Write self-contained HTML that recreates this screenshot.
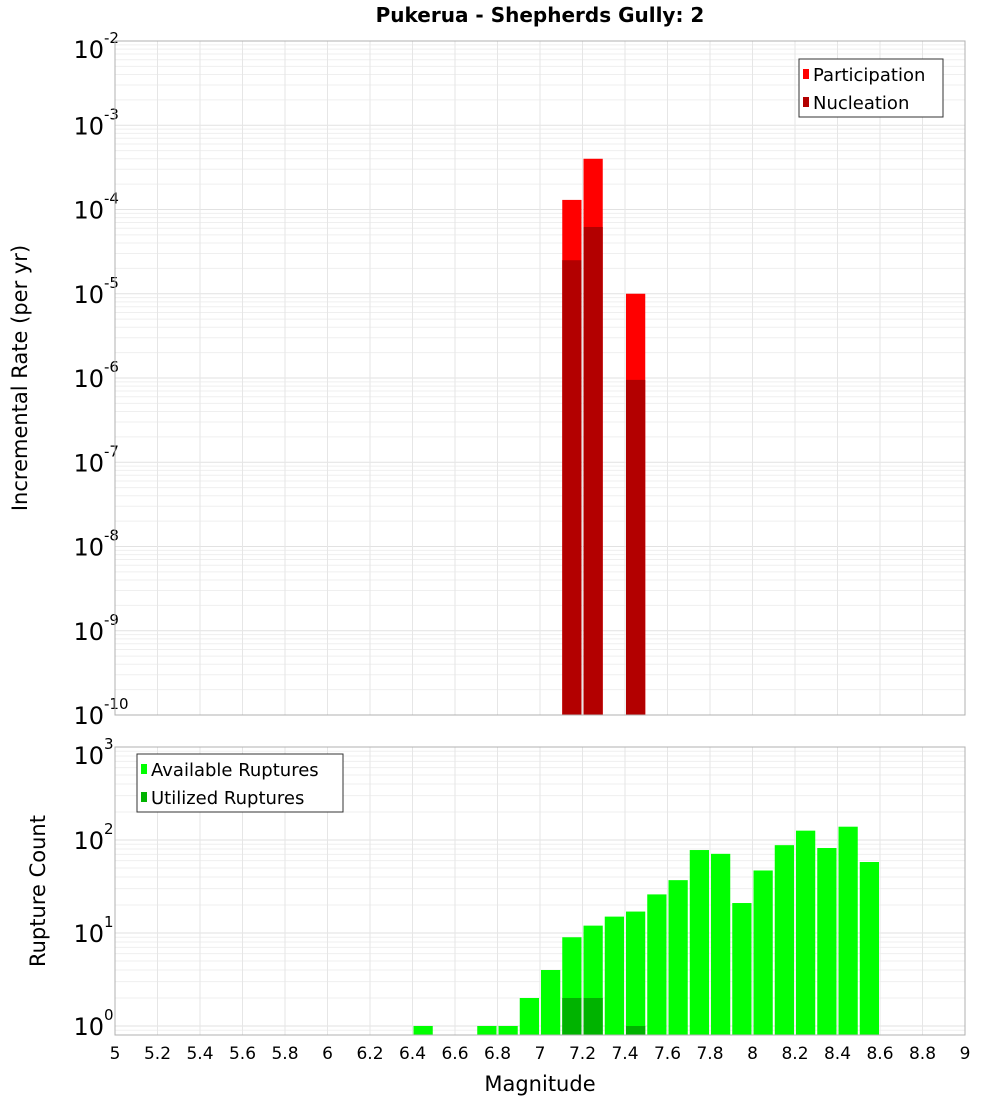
<!DOCTYPE html>
<html><head><meta charset="utf-8"><style>
body{margin:0;background:#fff;}
svg{display:block;font-family:"DejaVu Sans","Liberation Sans",sans-serif;}
</style></head><body>
<svg id="chart" width="1000" height="1100" xmlns="http://www.w3.org/2000/svg">
<text x="540" y="22" text-anchor="middle" font-size="20" font-weight="bold">Pukerua - Shepherds Gully: 2</text>
<g id="top"></g>
<g id="bot"></g>
<text transform="translate(27,378) rotate(-90)" text-anchor="middle" font-size="21">Incremental Rate (per yr)</text>
<text transform="translate(45,891) rotate(-90)" text-anchor="middle" font-size="21">Rupture Count</text>
<text x="540" y="1091" text-anchor="middle" font-size="21">Magnitude</text>
</svg>
<script>
// data
const rateMags = [7.15, 7.25, 7.45];
const participation = [1.3e-4, 4.0e-4, 1.0e-5];
const nucleation = [2.5e-5, 6.2e-5, 9.5e-7];
const countMags = [6.45, 6.75, 6.85, 6.95, 7.05, 7.15, 7.25, 7.35, 7.45, 7.55, 7.65, 7.75, 7.85, 7.95, 8.05, 8.15, 8.25, 8.35, 8.45, 8.55];
const available = [1, 1, 1, 2, 4, 9, 12, 15, 17, 26, 37, 78, 71, 21, 47, 88, 126, 82, 139, 58];
const utilMags = [7.15, 7.25, 7.45];
const utilized = [2, 2, 1];
const xTicks = [5,5.2,5.4,5.6,5.8,6,6.2,6.4,6.6,6.8,7,7.2,7.4,7.6,7.8,8,8.2,8.4,8.6,8.8,9];
const rateExps = [-10,-9,-8,-7,-6,-5,-4,-3,-2];
const countExps = [0,1,2,3];

const NS="http://www.w3.org/2000/svg";
function mk(parent,tag,attrs){const e=document.createElementNS(NS,tag);for(const k in attrs)e.setAttribute(k,attrs[k]);parent.appendChild(e);return e;}
const X0=115,X1=965;
const xs=m=>X0+(m-5)/4*(X1-X0);
function logScale(ymin,ymax,top,bot){const a=Math.log10(ymin),b=Math.log10(ymax);return v=>bot-(Math.log10(v)-a)/(b-a)*(bot-top);}

function frame(g,top,bot,ys,exps,ymin,ymax){
  mk(g,'rect',{x:X0,y:top,width:X1-X0,height:bot-top,fill:'#fff'});
  for(let e=exps[0]-1;e<=exps[exps.length-1];e++){
    for(let k=1;k<10;k++){const v=k*Math.pow(10,e);if(v<ymin||v>ymax)continue;const y=ys(v);
      const l=mk(g,'line',{x1:X0,x2:X1,y1:y,y2:y,stroke:k==1?'#e2e2e2':'#efefef','stroke-width':1});
      
      }
  }
  xTicks.forEach(t=>{const x=xs(t);const l=mk(g,'line',{x1:x,x2:x,y1:top,y2:bot,stroke:'#e6e6e6'});
    
    });
  exps.forEach(e=>{let y=ys(Math.pow(10,e));y=Math.min(Math.max(y,top+8),bot);
    const t=mk(g,'text',{x:104,y:y+9,'text-anchor':'end','font-size':24});
    t.textContent='10';
    
    
    const s=mk(g,'text',{x:104,y:y-6,'font-size':15});
    s.textContent=String(e);
    
    });
}
function border(g,top,bot){const r=mk(g,'rect',{x:X0,y:top,width:X1-X0,height:bot-top,fill:'none',stroke:'#b0b0b0'});
  
  }
function bar(g,m,v,ys,bot,color,name){const x=xs(m-0.05)+1,w=xs(m+0.05)-xs(m-0.05)-2,y=ys(v);
  const r=mk(g,'rect',{x:x,y:y,width:w,height:bot-y,fill:color});
  
  }
function legend(g,x,y,w,items){const r=mk(g,'rect',{x:x,y:y,width:w,height:58,fill:'#fff',stroke:'#333'});
  
  
  items.forEach((it,i)=>{const cy=y+15+i*28;
    const s=mk(g,'rect',{x:x+4,y:cy-5,width:6,height:10,fill:it[1]});
    
    
    const t=mk(g,'text',{x:x+14,y:cy+7,'font-size':18});
    t.textContent=it[0];
    
    });}

// top
const gt=document.getElementById('top');const T0=41,T1=715;
const ysT=logScale(1e-10,1e-2,T0,T1);
frame(gt,T0,T1,ysT,rateExps,1e-10,1e-2);
rateMags.forEach((m,i)=>bar(gt,m,participation[i],ysT,T1,'#ff0000','bar-participation'));
rateMags.forEach((m,i)=>bar(gt,m,nucleation[i],ysT,T1,'#b30000','bar-nucleation'));
border(gt,T0,T1);
legend(gt,799,59,144,[['Participation','#ff0000'],['Nucleation','#b30000']]);

// bottom
const gb=document.getElementById('bot');const B0=747,B1=1035;
const ysB=logScale(0.8,1000,B0,B1);
frame(gb,B0,B1,ysB,countExps,0.8,1000);
countMags.forEach((m,i)=>bar(gb,m,available[i],ysB,B1,'#00ff00','bar-available'));
utilMags.forEach((m,i)=>bar(gb,m,utilized[i],ysB,B1,'#00b300','bar-utilized'));
border(gb,B0,B1);
legend(gb,137,754,206,[['Available Ruptures','#00ff00'],['Utilized Ruptures','#00b300']]);
xTicks.forEach(t=>{const e=mk(gb,'text',{x:xs(t),y:1059,'text-anchor':'middle','font-size':17});
  e.textContent=String(t);
  
  });
</script>
</body></html>
